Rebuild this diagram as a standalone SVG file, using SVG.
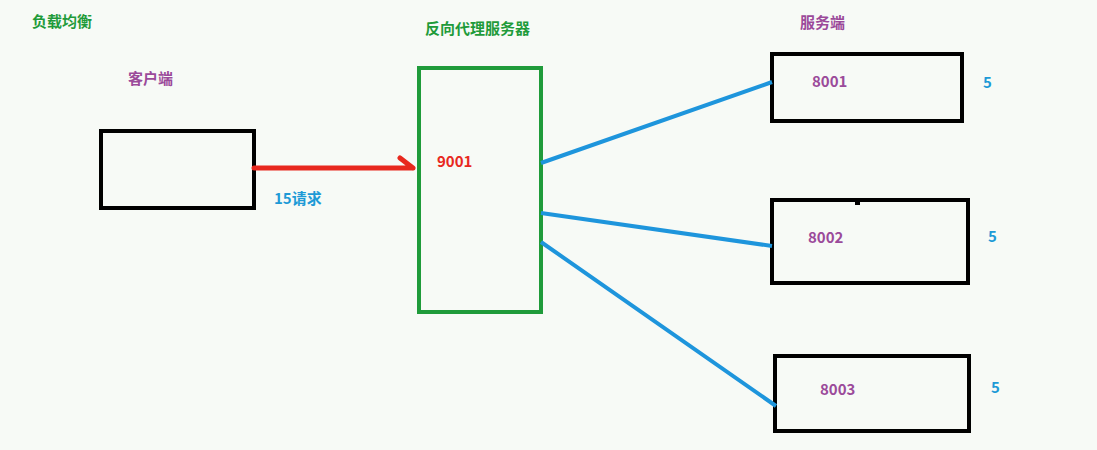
<svg xmlns="http://www.w3.org/2000/svg" width="1097" height="450" viewBox="0 0 1097 450">
<style>
text{font-family:"Noto Sans CJK SC","Liberation Sans",sans-serif;font-weight:bold;font-size:15px}
.box{fill:none;stroke:#000;stroke-width:4}
.g{fill:#1f9b3a}.p{fill:#9b4a9a}.b{fill:#1e9ad6}.r{fill:#e8281e}
.c{stroke:#1e95dc;stroke-width:4;fill:none}
</style>
<rect width="1097" height="450" fill="#f7faf6"/>
<text x="32" y="27" class="g">负载均衡</text>
<text x="425" y="34" class="g">反向代理服务器</text>
<g id="client"><rect class="box" x="101" y="131" width="153" height="77"/><text x="128" y="84" class="p">客户端</text></g>
<g id="proxy"><rect x="419" y="68" width="122" height="244" fill="none" stroke="#1f9b3a" stroke-width="4"/><text x="437" y="167" class="r" font-size="14">9001</text></g>
<g id="s1"><rect class="box" x="772" y="54" width="190" height="67"/><text x="812" y="87" class="p" font-size="14">8001</text><text x="983" y="88" class="b" font-size="14">5</text></g>
<g id="s2"><rect class="box" x="772" y="200" width="196" height="83"/><rect x="855" y="200" width="5" height="5" fill="#000"/><text x="808" y="243" class="p" font-size="14">8002</text><text x="988" y="242" class="b" font-size="14">5</text></g>
<g id="s3"><rect class="box" x="775" y="356" width="194" height="75"/><text x="820" y="395" class="p" font-size="14">8003</text><text x="991" y="393" class="b" font-size="14">5</text></g>
<text x="800" y="28" class="p">服务端</text>
<g id="connectors">
<path d="M254 168H413M400 158L413 168" stroke="#e8281e" stroke-width="5" fill="none" stroke-linecap="round"/>
<text x="274" y="204" class="b">15请求</text>
<path class="c" d="M541 163L772 82M541 213L772 246M541 242L776 406"/>
</g>
</svg>
